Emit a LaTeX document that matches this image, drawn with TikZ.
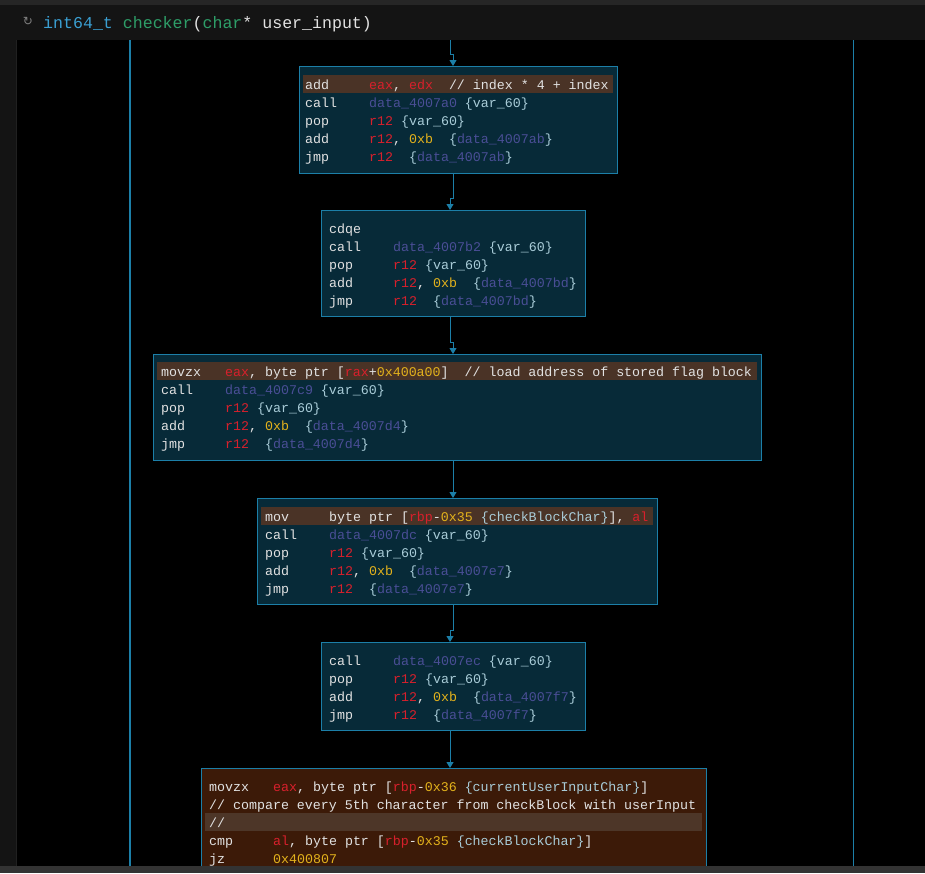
\documentclass[tikz,border=0pt]{standalone}
\usepackage{fontspec}
\setmonofont{Liberation Mono}
\newfontfamily\djfont{DejaVu Sans}
\usetikzlibrary{arrows.meta}
\definecolor{edge}{HTML}{1C7FA8}
\definecolor{blk}{HTML}{072A38}
\definecolor{hl}{HTML}{4A3326}
\definecolor{hl2}{HTML}{4D3628}
\definecolor{red6}{HTML}{D8202C}
\definecolor{yel}{HTML}{E3B21C}
\definecolor{dat}{HTML}{4A4E96}
\definecolor{lbl}{HTML}{A9CCD8}
\definecolor{txt}{HTML}{E2E2E2}
\definecolor{warm}{HTML}{3C1A08}
\definecolor{hdr}{HTML}{141414}
\newcommand\R[1]{\textcolor{red6}{#1}}
\newcommand\Y[1]{\textcolor{yel}{#1}}
\newcommand\D[1]{\textcolor{dat}{#1}}
\newcommand\Vv[1]{\textcolor{lbl}{#1}}
\newcommand\mn[1]{\makebox[64pt][l]{#1}}
\newcommand\cl[4]{\node[code] (#1) at (#2,#3) {#4};}
\tikzset{
 block/.style={draw=edge,line width=1pt,fill=blk,anchor=north west,inner sep=0pt},
 code/.style={anchor=base west,inner sep=0pt,text=txt,font=\ttfamily\fontsize{13.3pt}{18pt}\selectfont},
 arr/.style={draw=edge,line width=1pt,-{Triangle[length=6pt,width=7pt]}}
}
\begin{document}
\begin{tikzpicture}[x=1pt,y=-1pt]
\useasboundingbox (0,0) rectangle (925,873);
\fill[black] (0,0) rectangle (925,873);
\fill[hdr] (0,0) rectangle (925,40);
\fill[hdr] (0,0) rectangle (16,873);
\draw[gray!25!black,line width=1pt] (16,40) -- (16,866);
\fill[black!85] (0,0) rectangle (925,5);
\node[anchor=base west,inner sep=0pt,font=\ttfamily\fontsize{16.6pt}{20pt}\selectfont] (title) at (43,28)
 {\textcolor[HTML]{3A9FD2}{int64\_t} \textcolor[HTML]{2E9E68}{checker}\textcolor{txt}{(}\textcolor[HTML]{2E9E68}{char}\textcolor{txt}{* user\_input)}};
\node[anchor=center,inner sep=0pt,text=gray,font=\djfont\fontsize{12pt}{12pt}\selectfont] (ico) at (28,21) {↻};
\coordinate (l1t) at (130,40); \coordinate (l1b) at (130,866);
\coordinate (l2t) at (853,40); \coordinate (l2b) at (853,866);
\draw[edge,line width=1.3pt] (l1t) -- (l1b);
\draw[edge,line width=1pt] (l2t) -- (l2b);
% blocks
\node[block,minimum width=318pt,minimum height=107pt] (b1) at (299,66) {};
\node[block,minimum width=264pt,minimum height=106pt] (b2) at (321,210) {};
\node[block,minimum width=608pt,minimum height=106pt] (b3) at (153,354) {};
\node[block,minimum width=400pt,minimum height=106pt] (b4) at (257,498) {};
\node[block,minimum width=264pt,minimum height=88pt] (b5) at (321,642) {};
\node[block,fill=warm,minimum width=505pt,minimum height=101pt] (b6) at (201,768) {};
% highlights
\fill[hl] (303,75) rectangle (613,93);
\fill[hl] (157,362) rectangle (757,380);
\fill[hl] (261,507) rectangle (653,525);
\fill[hl2] (205,813) rectangle (702,831);
% text
\cl{a1}{305}{89}{\mn{add}\R{eax}, \R{edx}\ \ // index * 4 + index}
\cl{a2}{305}{107}{\mn{call}\D{data\_4007a0} \Vv{\{var\_60\}}}
\cl{a3}{305}{125}{\mn{pop}\R{r12} \Vv{\{var\_60\}}}
\cl{a4}{305}{143}{\mn{add}\R{r12}, \Y{0xb}\ \ \Vv{\{}\D{data\_4007ab}\Vv{\}}}
\cl{a5}{305}{161}{\mn{jmp}\R{r12}\ \ \Vv{\{}\D{data\_4007ab}\Vv{\}}}
\cl{c1}{329}{233}{cdqe}
\cl{c2}{329}{251}{\mn{call}\D{data\_4007b2} \Vv{\{var\_60\}}}
\cl{c3}{329}{269}{\mn{pop}\R{r12} \Vv{\{var\_60\}}}
\cl{c4}{329}{287}{\mn{add}\R{r12}, \Y{0xb}\ \ \Vv{\{}\D{data\_4007bd}\Vv{\}}}
\cl{c5}{329}{305}{\mn{jmp}\R{r12}\ \ \Vv{\{}\D{data\_4007bd}\Vv{\}}}
\cl{d1}{161}{376}{\mn{movzx}\R{eax}, byte ptr [\R{rax}+\Y{0x400a00}]\ \ // load address of stored flag block}
\cl{d2}{161}{394}{\mn{call}\D{data\_4007c9} \Vv{\{var\_60\}}}
\cl{d3}{161}{412}{\mn{pop}\R{r12} \Vv{\{var\_60\}}}
\cl{d4}{161}{430}{\mn{add}\R{r12}, \Y{0xb}\ \ \Vv{\{}\D{data\_4007d4}\Vv{\}}}
\cl{d5}{161}{448}{\mn{jmp}\R{r12}\ \ \Vv{\{}\D{data\_4007d4}\Vv{\}}}
\cl{e1}{265}{521}{\mn{mov}byte ptr [\R{rbp}-\Y{0x35} \Vv{\{checkBlockChar\}}], \R{al}}
\cl{e2}{265}{539}{\mn{call}\D{data\_4007dc} \Vv{\{var\_60\}}}
\cl{e3}{265}{557}{\mn{pop}\R{r12} \Vv{\{var\_60\}}}
\cl{e4}{265}{575}{\mn{add}\R{r12}, \Y{0xb}\ \ \Vv{\{}\D{data\_4007e7}\Vv{\}}}
\cl{e5}{265}{593}{\mn{jmp}\R{r12}\ \ \Vv{\{}\D{data\_4007e7}\Vv{\}}}
\cl{f1}{329}{665}{\mn{call}\D{data\_4007ec} \Vv{\{var\_60\}}}
\cl{f2}{329}{683}{\mn{pop}\R{r12} \Vv{\{var\_60\}}}
\cl{f3}{329}{701}{\mn{add}\R{r12}, \Y{0xb}\ \ \Vv{\{}\D{data\_4007f7}\Vv{\}}}
\cl{f4}{329}{719}{\mn{jmp}\R{r12}\ \ \Vv{\{}\D{data\_4007f7}\Vv{\}}}
\cl{g1}{209}{791}{\mn{movzx}\R{eax}, byte ptr [\R{rbp}-\Y{0x36} \Vv{\{currentUserInputChar\}}]}
\cl{g2}{209}{809}{// compare every 5th character from checkBlock with userInput}
\cl{g3}{209}{827}{//}
\cl{g4}{209}{845}{\mn{cmp}\R{al}, byte ptr [\R{rbp}-\Y{0x35} \Vv{\{checkBlockChar\}}]}
\cl{g5}{209}{863}{\mn{jz}\Y{0x400807}}
\fill[black!80!white] (0,866) rectangle (925,873);
% arrows
\coordinate (top) at (450,40);
\coordinate (xa) at (453,0);
\coordinate (xb) at (450,0);
\draw[arr] (top) -- (450,54) -- (453,54) -- (b1.north -| xa);
\draw[arr] (b1.south -| xa) -- (453,198) -- (450,198) -- (b2.north -| xb);
\draw[arr] (b2.south -| xb) -- (450,342) -- (453,342) -- (b3.north -| xa);
\draw[arr] (b3.south -| xa) -- (b4.north -| xa);
\draw[arr] (b4.south -| xa) -- (453,630) -- (450,630) -- (b5.north -| xb);
\draw[arr] (b5.south -| xb) -- (b6.north -| xb);
\end{tikzpicture}
\end{document}
